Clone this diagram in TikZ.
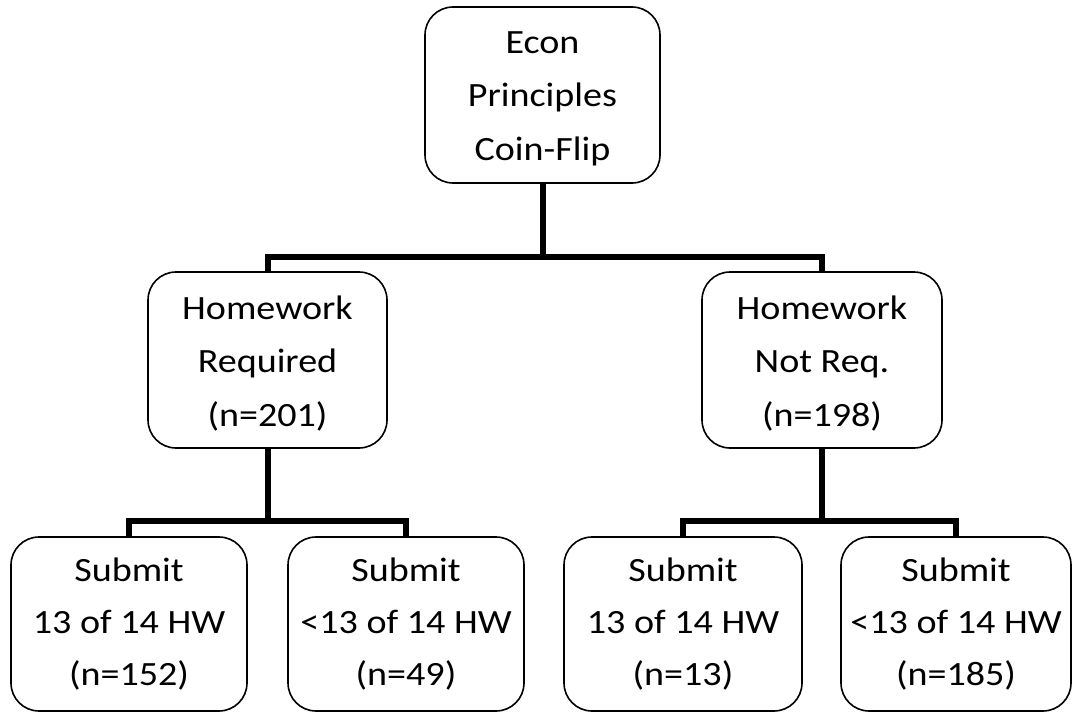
\documentclass[tikz,border=0pt]{standalone}
\usepackage{fontspec}
\setmainfont{Carlito}[FakeStretch=1.12]
\begin{document}
\begin{tikzpicture}[x=1pt,y=1pt,
  box/.style={draw, line width=1.6pt, rounded corners=28pt, align=center,
    font=\fontsize{34}{53.5}\selectfont, inner sep=0pt, minimum height=176pt},
  lowbox/.style={box, font=\fontsize{34}{52}\selectfont, minimum height=174pt},
  conn/.style={line width=6pt, line join=miter}]
\useasboundingbox (0,0) rectangle (1072,-712);
\node[box, minimum width=235pt] (top) at (542.5,-95) {\rule{0pt}{29pt}Econ\\Principles\\Coin-Flip};
\node[box, minimum width=239pt] (hl) at (267.5,-360) {\rule{0pt}{30pt}Homework\\Required\\(n=201)};
\node[box, minimum width=240pt] (hr) at (822,-360) {\rule{0pt}{30pt}Homework\\Not Req.\\(n=198)};
\node[lowbox, minimum width=236pt] (b1) at (129,-624) {Submit\\13 of 14 HW\\(n=152)};
\node[lowbox, minimum width=236pt] (b2) at (406,-624) {Submit\\<13 of 14 HW\\(n=49)};
\node[lowbox, minimum width=238pt] (b3) at (683,-624) {Submit\\13 of 14 HW\\(n=13)};
\node[lowbox, minimum width=230pt] (b4) at (956,-624) {Submit\\<13 of 14 HW\\(n=185)};
\coordinate (j1) at (542.5,-257);
\coordinate (j2) at (267.5,-521);
\coordinate (j3) at (822,-521);
\draw[conn] (top.south) -- (j1);
\draw[conn] (hl.north) |- (j1) -| (hr.north);
\draw[conn] (hl.south) -- (j2);
\draw[conn] (b1.north) |- (j2) -| (b2.north);
\draw[conn] (hr.south) -- (j3);
\draw[conn] (b3.north) |- (j3) -| (b4.north);
\end{tikzpicture}
\end{document}
